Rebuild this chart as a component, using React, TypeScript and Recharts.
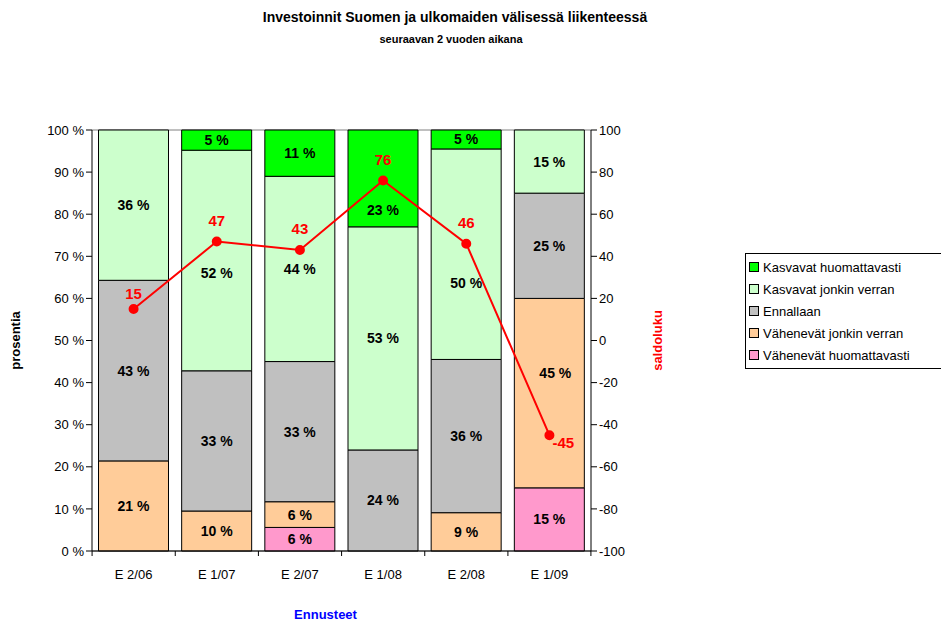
import { Bar, CartesianGrid, ComposedChart, LabelList, Line, XAxis, YAxis } from "recharts"

const categories = ["E 2/06", "E 1/07", "E 2/07", "E 1/08", "E 2/08", "E 1/09"]
const vahenevatHuom = [0, 0, 5.6, 0, 0, 15]
const vahenevatJonkin = [21.4, 9.5, 6.1, 0, 9.1, 45]
const ennallaan = [42.9, 33.3, 33.3, 24, 36.4, 25]
const kasvavatJonkin = [35.7, 52.4, 44, 53, 50, 15]
const kasvavatHuom = [0, 4.8, 11, 23, 4.5, 0]
const saldoluku = [15, 47, 43, 76, 46, -45]

const leftTicks = [0, 10, 20, 30, 40, 50, 60, 70, 80, 90, 100]
const rightTicks = [-100, -80, -60, -40, -20, 0, 20, 40, 60, 80, 100]

const series = [
  { key: "vh", name: "Vähenevät huomattavasti", color: "#FF99CC", values: vahenevatHuom },
  { key: "vj", name: "Vähenevät jonkin verran", color: "#FFCC99", values: vahenevatJonkin },
  { key: "en", name: "Ennallaan", color: "#C0C0C0", values: ennallaan },
  { key: "kj", name: "Kasvavat jonkin verran", color: "#CCFFCC", values: kasvavatJonkin },
  { key: "kh", name: "Kasvavat huomattavasti", color: "#00FF00", values: kasvavatHuom },
]

// labels that were dragged off the line in the original, [dx, dy] px
const labelNudge: Record<string, [number, number]> = {
  "E 1/07-kj": [0, 12],
  "E 1/08-kh": [0, 32],
  "E 2/08-kj": [0, 29],
  "E 1/09-vj": [6, -20],
  "E 2/06-saldo": [0, 6],
}

const data = categories.map((c, i) => {
  const row: any = { cat: c, saldo: saldoluku[i] }
  series.forEach((s) => (row[s.key] = s.values[i]))
  return row
})

const font = "'Liberation Sans', Arial, sans-serif"
const plotLeft = 92
const band = 83

// zero-height bars are skipped, so find the category from the x position
const catAt = (cx: number) => categories[Math.floor((cx - plotLeft) / band)]

function BarLabel(props: any) {
  const { x, y, width, height, value, skey } = props
  if (!value) return null
  const cx = x + width / 2
  const [nx, ny] = labelNudge[`${catAt(cx)}-${skey}`] || [0, 0]
  return (
    <text
      x={cx + nx}
      y={y + height / 2 + ny}
      dy={5}
      textAnchor="middle"
      fontSize={14}
      fontWeight="bold"
      fill="#000"
      fontFamily={font}
    >
      {Math.round(value)} %
    </text>
  )
}

function SaldoLabel(props: any) {
  const { x, y, value } = props
  const below = value < 0
  const [nx, ny] = labelNudge[`${catAt(x)}-saldo`] || [0, 0]
  return (
    <text
      x={(below ? x + 3 : x) + nx}
      y={(below ? y + 13 : y - 16) + ny}
      textAnchor={below ? "start" : "middle"}
      fontSize={15}
      fontWeight="bold"
      fill="#FF0000"
      fontFamily={font}
    >
      {value}
    </text>
  )
}

function CatTick(props: any) {
  const { x, y, payload, index } = props
  const half = band / 2
  return (
    <g>
      <line x1={x - half} y1={y - 8} x2={x - half} y2={y - 3} stroke="#000" />
      {index === categories.length - 1 && (
        <line x1={x + half} y1={y - 8} x2={x + half} y2={y - 3} stroke="#000" />
      )}
      <text x={x} y={y + 20} textAnchor="middle" fontSize={13} fill="#000" fontFamily={font}>
        {payload.value}
      </text>
    </g>
  )
}

export default function App() {
  const legendItems = [...series].reverse()
  return (
    <div
      style={{
        position: "fixed",
        left: 0,
        top: 0,
        width: 941,
        height: 621,
        overflow: "hidden",
        background: "#fff",
        fontFamily: font,
      }}
    >
      <div
        style={{
          position: "absolute",
          left: 0,
          width: 910,
          top: 9,
          textAlign: "center",
          fontSize: 14,
          fontWeight: "bold",
        }}
      >
        Investoinnit Suomen ja ulkomaiden välisessä liikenteessä
      </div>
      <div
        style={{
          position: "absolute",
          left: 0,
          width: 902,
          top: 33,
          textAlign: "center",
          fontSize: 11,
          fontWeight: "bold",
        }}
      >
        seuraavan 2 vuoden aikana
      </div>
      <ComposedChart
        width={941}
        height={621}
        data={data}
        margin={{ top: 130, right: 270, bottom: 0, left: 0 }}
        barCategoryGap={6.5}
      >
        <CartesianGrid horizontal vertical={false} stroke="#808080" />
        <XAxis
          dataKey="cat"
          height={70}
          stroke="#000"
          tickLine={false}
          tick={<CatTick />}
          interval={0}
          label={{
            value: "Ennusteet",
            position: "insideBottom",
            offset: 2,
            dx: -16,
            fill: "#0000FF",
            fontWeight: "bold",
            fontSize: 13,
            fontFamily: font,
          }}
        />
        <YAxis
          yAxisId="left"
          width={plotLeft}
          domain={[0, 100]}
          ticks={leftTicks}
          interval={0}
          stroke="#000"
          tickSize={6}
          tickFormatter={(v) => `${v} %`}
          tick={{ fill: "#000", fontSize: 13, fontFamily: font }}
          label={{
            value: "prosentia",
            angle: -90,
            position: "insideLeft",
            offset: 15,
            fill: "#000",
            fontWeight: "bold",
            fontSize: 13,
            fontFamily: font,
            style: { textAnchor: "middle" },
          }}
        />
        <YAxis
          yAxisId="right"
          orientation="right"
          width={80}
          domain={[-100, 100]}
          ticks={rightTicks}
          interval={0}
          stroke="#000"
          tickSize={6}
          tick={{ fill: "#000", fontSize: 13, fontFamily: font }}
          label={{
            value: "saldoluku",
            angle: -90,
            position: "insideRight",
            offset: 14,
            fill: "#FF0000",
            fontWeight: "bold",
            fontSize: 13,
            fontFamily: font,
            style: { textAnchor: "middle" },
          }}
        />
        {series.map((s) => (
          <Bar
            key={s.key}
            yAxisId="left"
            dataKey={s.key}
            name={s.name}
            stackId="a"
            fill={s.color}
            stroke="#000"
            strokeWidth={1}
            isAnimationActive={false}
          >
            <LabelList dataKey={s.key} content={<BarLabel skey={s.key} />} />
          </Bar>
        ))}
        <Line
          yAxisId="right"
          dataKey="saldo"
          stroke="#FF0000"
          strokeWidth={2}
          dot={{ r: 4, fill: "#FF0000", stroke: "#FF0000" }}
          isAnimationActive={false}
        >
          <LabelList dataKey="saldo" content={<SaldoLabel />} />
        </Line>
      </ComposedChart>
      <div
        style={{
          position: "absolute",
          left: 745,
          top: 253,
          width: 210,
          border: "1px solid #000",
          padding: "2px 0 2px 3px",
          fontSize: 13,
        }}
      >
        {legendItems.map((s) => (
          <div key={s.key} style={{ display: "flex", alignItems: "center", height: 22 }}>
            <span
              style={{
                display: "inline-block",
                width: 8,
                height: 8,
                background: s.color,
                border: "1px solid #000",
                marginRight: 4,
              }}
            />
            {s.name}
          </div>
        ))}
      </div>
    </div>
  )
}
